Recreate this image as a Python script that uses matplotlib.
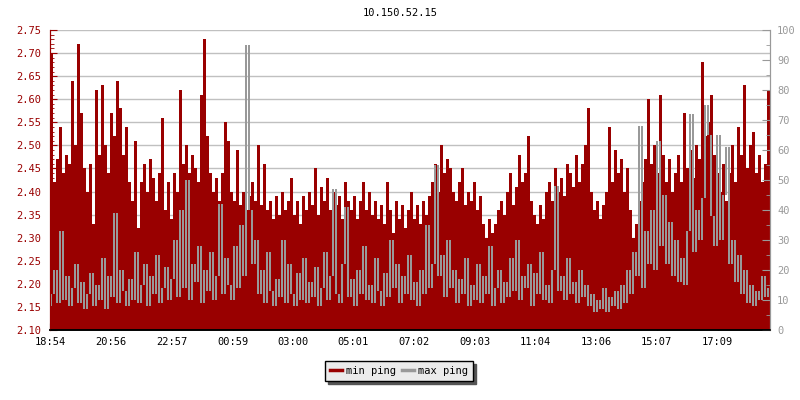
import numpy as np
import matplotlib
matplotlib.use("Agg")
import matplotlib.pyplot as plt
from matplotlib.lines import Line2D
from matplotlib.ticker import MultipleLocator

# one sample every 6 minutes, 24h starting at 18:54
sample_minutes = 6

min_ping = [
    2.70, 2.42, 2.47, 2.54, 2.44, 2.48, 2.46, 2.64, 2.50, 2.72,
    2.57, 2.45, 2.40, 2.46, 2.33, 2.62, 2.48, 2.63, 2.50, 2.44,
    2.57, 2.52, 2.64, 2.58, 2.48, 2.54, 2.42, 2.38, 2.51, 2.32,
    2.42, 2.46, 2.40, 2.47, 2.43, 2.38, 2.44, 2.56, 2.36, 2.42,
    2.34, 2.44, 2.40, 2.62, 2.46, 2.50, 2.44, 2.48, 2.45, 2.42,
    2.61, 2.73, 2.52, 2.44, 2.40, 2.43, 2.38, 2.44, 2.55, 2.51,
    2.40, 2.38, 2.49, 2.37, 2.40, 2.36, 2.39, 2.42, 2.38, 2.50,
    2.37, 2.46, 2.36, 2.38, 2.34, 2.39, 2.35, 2.40, 2.36, 2.38,
    2.43, 2.35, 2.38, 2.33, 2.39, 2.36, 2.40, 2.37, 2.45, 2.35,
    2.41, 2.38, 2.43, 2.36, 2.40, 2.37, 2.39, 2.34, 2.42, 2.38,
    2.36, 2.39, 2.34, 2.38, 2.42, 2.36, 2.40, 2.35, 2.38, 2.34,
    2.37, 2.33, 2.42, 2.36, 2.31, 2.38, 2.34, 2.37, 2.32, 2.36,
    2.40, 2.34, 2.37, 2.33, 2.38, 2.35, 2.39, 2.42, 2.46, 2.40,
    2.50, 2.44, 2.47, 2.45, 2.40, 2.38, 2.42, 2.45, 2.37, 2.40,
    2.38, 2.42, 2.36, 2.39, 2.33, 2.30, 2.34, 2.31, 2.33, 2.36,
    2.38, 2.35, 2.40, 2.44, 2.37, 2.41, 2.48, 2.42, 2.44, 2.52,
    2.38, 2.35, 2.33, 2.37, 2.34, 2.40, 2.42, 2.38, 2.45, 2.40,
    2.43, 2.39, 2.46, 2.44, 2.41, 2.48, 2.42, 2.46, 2.50, 2.58,
    2.40, 2.36, 2.38, 2.34, 2.37, 2.40, 2.54, 2.42, 2.49, 2.44,
    2.47, 2.40, 2.45, 2.36, 2.30, 2.33, 2.38, 2.42, 2.47, 2.60,
    2.46, 2.50, 2.44, 2.61, 2.48, 2.42, 2.47, 2.40, 2.44, 2.48,
    2.42, 2.57, 2.45, 2.49, 2.43, 2.50, 2.47, 2.68, 2.52, 2.55,
    2.61, 2.48, 2.44, 2.40, 2.46, 2.38, 2.44, 2.50, 2.42, 2.54,
    2.48, 2.63, 2.45, 2.50, 2.53, 2.44, 2.48, 2.42, 2.46, 2.62,
]

max_ping = [
    12, 20, 9, 33, 10, 18, 8, 14, 22, 9,
    16, 7, 12, 19, 8, 15, 10, 24, 7, 18,
    11, 39, 9, 20, 13, 8, 17, 10, 26, 9,
    15, 22, 8, 18, 12, 25, 9, 14, 21, 10,
    17, 30, 11, 40, 14, 50, 10, 22, 16, 28,
    9, 20, 13, 26, 10, 18, 42, 12, 24, 15,
    10, 28, 14, 35, 18, 95, 40, 22, 30, 12,
    20, 9, 26, 13, 8, 17, 11, 30, 9, 22,
    12, 8, 19, 10, 24, 9, 16, 11, 21, 8,
    14, 26, 10, 18, 47, 12, 9, 22, 41, 11,
    17, 8, 20, 12, 28, 10, 15, 9, 24, 13,
    8, 19, 11, 30, 14, 22, 9, 18, 12, 25,
    10, 16, 8, 20, 12, 35, 14, 22, 55, 18,
    25, 11, 30, 14, 20, 9, 17, 12, 24, 8,
    15, 10, 22, 9, 18, 12, 28, 8, 14, 20,
    9, 16, 11, 24, 13, 30, 10, 18, 14, 22,
    8, 19, 12, 26, 10, 15, 9, 20, 48, 13,
    18, 10, 24, 12, 16, 9, 20, 11, 15, 8,
    12, 6, 10, 7, 14, 6, 11, 8, 13, 7,
    15, 9, 20, 12, 26, 18, 68, 14, 33, 22,
    40, 20, 63, 28, 45, 22, 36, 18, 30, 16,
    24, 15, 33, 72, 26, 40, 30, 44, 75, 65,
    38, 28, 65, 30, 45, 61, 22, 30, 16, 25,
    12, 20, 9, 15, 8, 13, 10, 18, 11, 14,
]

tick_labels = ["18:54", "20:56", "22:57", "00:59", "03:00", "05:01",
               "07:02", "09:03", "11:04", "13:06", "15:07", "17:09"]
tick_minutes = [0, 122, 243, 365, 486, 607, 728, 849, 970, 1092, 1213, 1335]

RED = "#990000"
GRAY = "#999999"
FONT = "DejaVu Sans Mono"

plt.rcParams["font.family"] = FONT
plt.rcParams["font.size"] = 7.5

fig = plt.figure(figsize=(8, 4), dpi=100)
ax = fig.add_axes([50 / 800, 1 - 330 / 400, 720 / 800, 300 / 400])
ax2 = ax.twinx()

# min ping: filled columns from the bottom of the left scale
x = np.arange(len(min_ping)) * sample_minutes
heights = np.array(min_ping) - 2.10
ax.bar(x, heights, bottom=2.10, width=sample_minutes, align="edge",
       color=RED, linewidth=0, zorder=2)

# max ping: the jagged line, drawn as the vertical swing between samples
mp = np.array(max_ping, dtype=float)
prev = np.concatenate([[mp[0] - 4], mp[:-1]])
lo = np.minimum(prev, mp)
hi = np.maximum(prev, mp)
ax2.bar(x + 0.5, hi - lo, bottom=lo, width=sample_minutes * 0.72,
        align="edge", color=GRAY, linewidth=0)

ax.set_xlim(0, 1440)
ax.set_ylim(2.10, 2.75)
ax2.set_ylim(0, 100)

# left axis
ax.yaxis.set_major_locator(MultipleLocator(0.05))
ax.yaxis.set_minor_locator(MultipleLocator(0.01))
ax.yaxis.set_major_formatter(lambda v, p: f"{v:.2f}")
ax.tick_params(axis="y", which="major", direction="in", length=5,
               color=RED, labelcolor=RED, pad=6)
ax.tick_params(axis="y", which="minor", direction="in", length=3, color=RED)
ax.grid(axis="y", which="major", color="#c0c0c0", lw=1, zorder=0)
ax.set_axisbelow(True)

# right axis
ax2.yaxis.set_major_locator(MultipleLocator(10))
ax2.yaxis.set_minor_locator(MultipleLocator(5))
ax2.tick_params(axis="y", which="major", direction="in", length=6,
                color=GRAY, labelcolor=GRAY, pad=5)
ax2.tick_params(axis="y", which="minor", direction="in", length=3, color=GRAY)

# time axis
ax.set_xticks(tick_minutes)
ax.set_xticklabels(tick_labels)
ax.tick_params(axis="x", direction="in", length=5, color="black", pad=5)

for a in (ax, ax2):
    a.spines["top"].set_visible(False)
    a.spines["left"].set_color(RED)
    a.spines["right"].set_color(GRAY)
    a.spines["bottom"].set_color("black")
    a.spines["bottom"].set_linewidth(1.2)

fig.text(0.5, 1 - 13 / 400, "10.150.52.15", ha="center", va="center",
         fontsize=7.5, color="black")

handles = [Line2D([], [], color=RED, lw=2.5),
           Line2D([], [], color=GRAY, lw=2.5)]
leg = fig.legend(handles, ["min ping", "max ping"], loc="center",
                 bbox_to_anchor=(399 / 800, 1 - 371 / 400), ncol=2,
                 fancybox=False, shadow={"color": "#555555", "alpha": 1},
                 edgecolor="black", facecolor="#ebebeb", framealpha=1,
                 handlelength=1.1, handletextpad=0.4, columnspacing=0.6,
                 borderpad=0.5, fontsize=7.5)
leg.get_frame().set_linewidth(1)

fig.savefig("out.png", dpi=100)
